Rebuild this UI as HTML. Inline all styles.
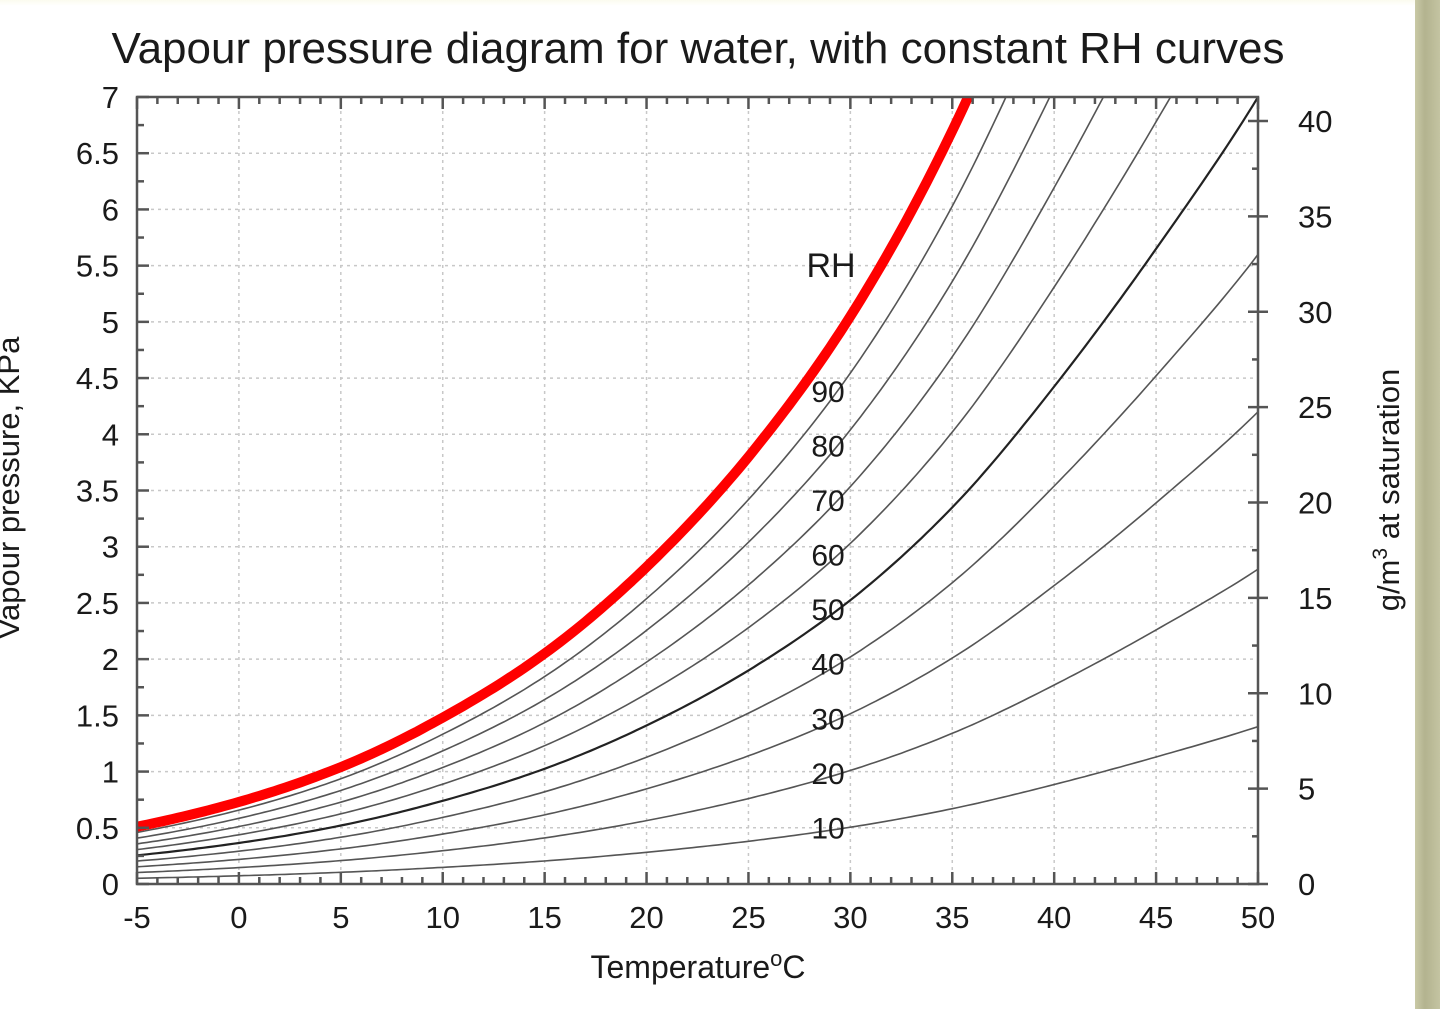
<!DOCTYPE html>
<html><head><meta charset="utf-8"><style>
html,body{margin:0;padding:0;background:#fff;}
body{width:1440px;height:1009px;overflow:hidden;position:relative;font-family:"Liberation Sans",sans-serif;}
#frame{position:absolute;left:1415px;top:0;width:25px;height:1009px;background:linear-gradient(90deg,#c9c9a6,#b3b38f 40%,#c4c4a2);}
#topstrip{position:absolute;left:0;top:0;width:1415px;height:6px;background:linear-gradient(#fbfbef,#fff);}
svg text{font-family:"Liberation Sans",sans-serif;fill:#1a1a1a;}
</style></head><body>
<div id="topstrip"></div>
<div id="frame"></div>
<svg id="chart" width="1440" height="1009" style="position:absolute;left:0;top:0"></svg>
<script>
const temps=[-5,0,5,10,15,20,25,30,35,40,45,50];
const satKPa=[0.51,0.73,1.04,1.48,2.05,2.82,3.8,5.05,6.7,8.85,11.3,14.0];
const rhLevels=[10,20,30,40,50,60,70,80,90];
const rhLabels=["10","20","30","40","50","60","70","80","90"];
const xTicks=[-5,0,5,10,15,20,25,30,35,40,45,50];
const yTicks=[0,0.5,1,1.5,2,2.5,3,3.5,4,4.5,5,5.5,6,6.5,7];
const y2Ticks=[0,5,10,15,20,25,30,35,40];

const L=137,R=1258,T=97,B=884;
const X=v=>L+(v+5)/55*(R-L);
const Y=v=>B-v/7*(B-T);
const Y2=v=>B-v/40*(B-121);
const NS="http://www.w3.org/2000/svg";
const svg=document.getElementById('chart');
function mk(tag,attrs,parent){const e=document.createElementNS(NS,tag);for(const k in attrs)e.setAttribute(k,attrs[k]);(parent||svg).appendChild(e);return e;}

const lg=satKPa.map(Math.log);
function lgAt(i){
  const n=lg.length;
  if(i<0)return 2*lg[0]-lg[1];
  if(i>=n)return 2*lg[n-1]-lg[n-2];
  return lg[i];
}
function sat(t){
  let i=Math.min(temps.length-2,Math.max(0,Math.floor((t-temps[0])/5)));
  const u=(t-temps[i])/5;
  const p0=lgAt(i-1),p1=lgAt(i),p2=lgAt(i+1),p3=lgAt(i+2);
  const v=0.5*((2*p1)+(-p0+p2)*u+(2*p0-5*p1+4*p2-p3)*u*u+(-p0+3*p1-3*p2+p3)*u*u*u);
  return Math.exp(v);
}

const grid=mk('g',{});


xTicks.slice(1,-1).forEach(t=>mk('line',{x1:X(t),x2:X(t),y1:T,y2:B,stroke:'#c8c8c8','stroke-width':1.5,'stroke-dasharray':'3,4'},grid));
yTicks.slice(1,-1).forEach(t=>mk('line',{x1:L,x2:R,y1:Y(t),y2:Y(t),stroke:'#c8c8c8','stroke-width':1.5,'stroke-dasharray':'3,4'},grid));

const defs=mk('defs',{});
const cp=mk('clipPath',{id:'plotclip'},defs);
mk('rect',{x:L,y:T,width:R-L,height:B-T},cp);

function curvePath(f){
  let d='';
  for(let t=-5;t<=50.001;t+=0.25){d+=(d?'L':'M')+X(t).toFixed(1)+','+Y(f(t)).toFixed(1);}
  return d;
}
const curves=mk('g',{'clip-path':'url(#plotclip)'});


rhLevels.forEach(rh=>{
  const p=mk('path',{d:curvePath(t=>sat(t)*rh/100),fill:'none',stroke:rh===50?'#222':'#555','stroke-width':rh===50?2.2:1.6},curves);
  
  
});
const red=mk('path',{d:curvePath(sat),fill:'none',stroke:'#ff0000','stroke-width':10},curves);



const ax=mk('g',{stroke:'#555','stroke-width':2.5});


mk('rect',{x:L,y:T,width:R-L,height:B-T,fill:'none'},ax);
for(let t=-5;t<=50;t+=1){const major=xTicks.includes(t);const len=major?12:7;
  mk('line',{x1:X(t),x2:X(t),y1:B,y2:B-len},ax);mk('line',{x1:X(t),x2:X(t),y1:T,y2:T+len},ax);}
for(let v=0;v<=7;v+=0.25){const major=Math.abs(v*2-Math.round(v*2))<1e-6;const len=major?12:7;
  mk('line',{x1:L,x2:L+len,y1:Y(v),y2:Y(v)},ax);}
for(let v=0;v<=40;v+=2.5){const major=v%5===0;const len=major?10:6;
  mk('line',{x1:R-len,x2:R+(major?10:0),y1:Y2(v),y2:Y2(v)},ax);}

xTicks.forEach(t=>{const e=mk('text',{x:X(t),y:928,'text-anchor':'middle','font-size':31});e.textContent=String(t);
  });
yTicks.forEach(t=>{const e=mk('text',{x:119,y:Y(t)+11,'text-anchor':'end','font-size':31});e.textContent=String(t);
  });
y2Ticks.forEach(t=>{const e=mk('text',{x:1298,y:Y2(t)+11,'text-anchor':'start','font-size':31});e.textContent=String(t);
  });

rhLevels.forEach((rh,i)=>{
  const v=sat(29.3)*rh/100;
  const e=mk('text',{x:828,y:Y(v)+9,'text-anchor':'middle','font-size':30});
  e.textContent=rhLabels[i];
  
  
});
const rhT=mk('text',{x:831,y:277,'text-anchor':'middle','font-size':34});rhT.textContent='RH';


const title=mk('text',{x:698,y:63,'text-anchor':'middle','font-size':44});title.textContent='Vapour pressure diagram for water, with constant RH curves';

const xl=mk('text',{x:698,y:978,'text-anchor':'middle','font-size':32});
xl.innerHTML='Temperature<tspan dy="-12" font-size="22">o</tspan><tspan dy="12">C</tspan>';

const yl=mk('text',{x:0,y:0,'text-anchor':'middle','font-size':31,transform:'translate(19,488) rotate(-90)'});yl.textContent='Vapour pressure, KPa';

const y2l=mk('text',{x:0,y:0,'text-anchor':'middle','font-size':31,transform:'translate(1399,490) rotate(-90)'});
y2l.innerHTML='g/m<tspan dy="-12" font-size="21">3</tspan><tspan dy="12"> at saturation</tspan>';

</script>
</body></html>
